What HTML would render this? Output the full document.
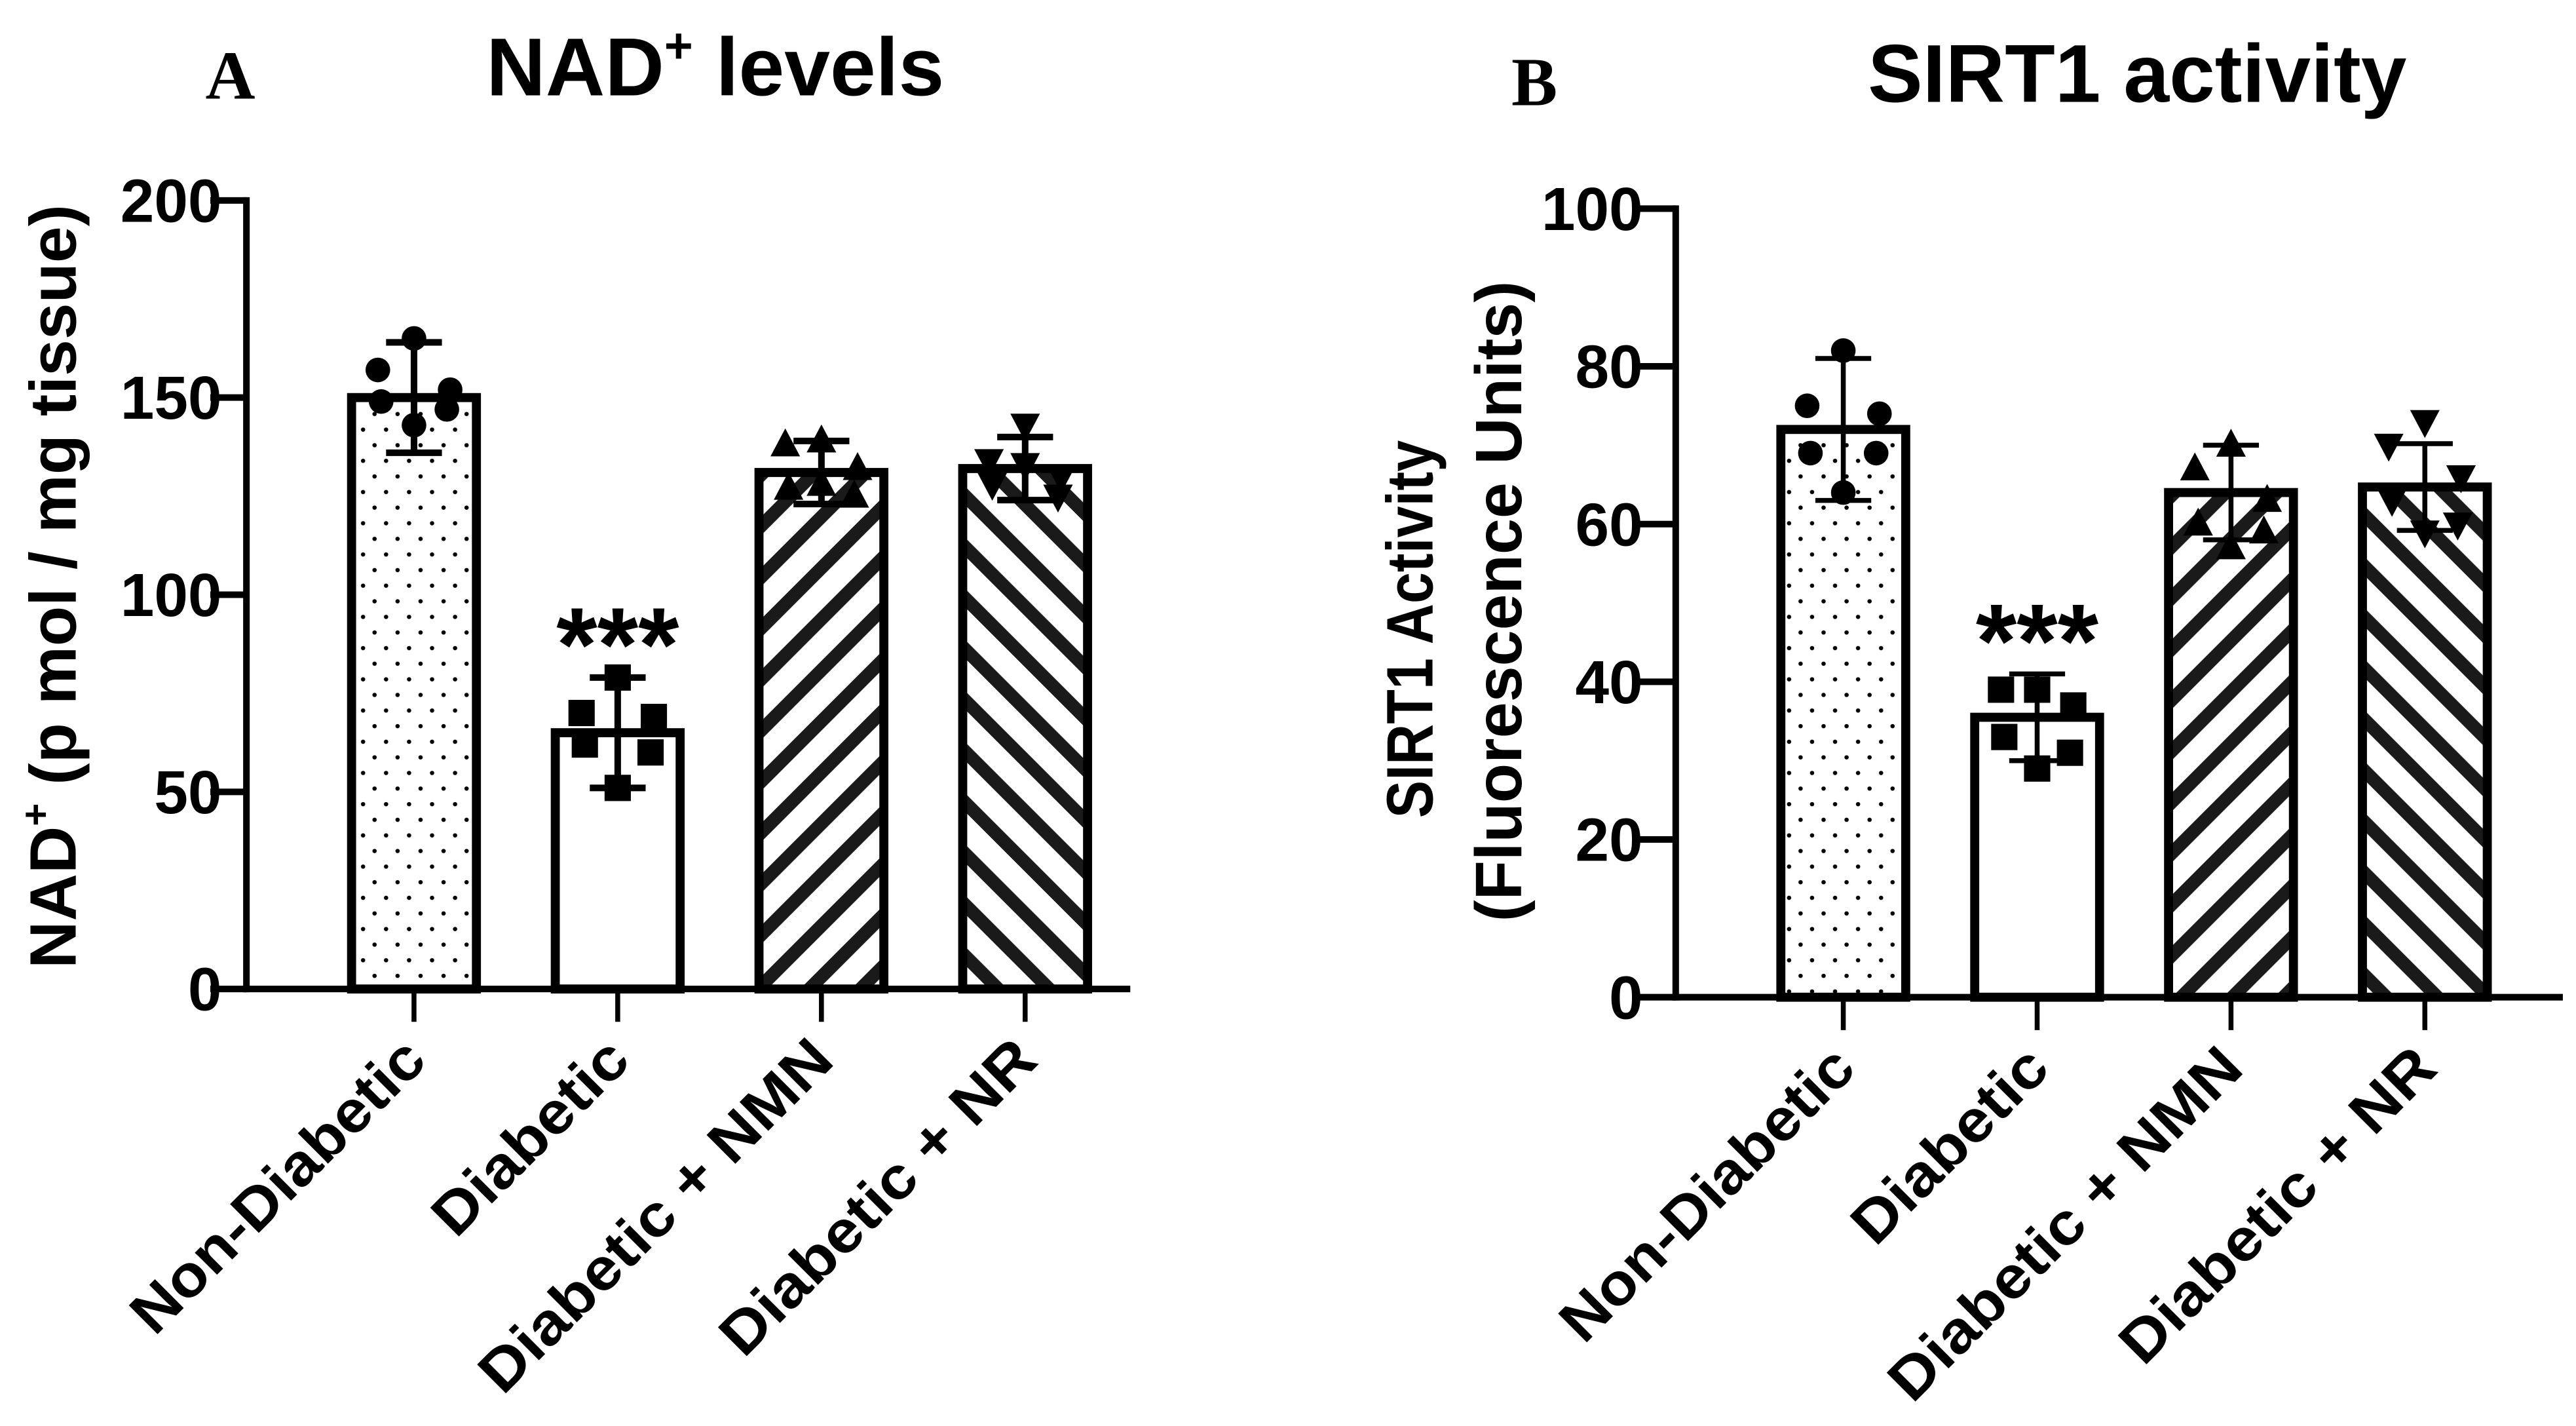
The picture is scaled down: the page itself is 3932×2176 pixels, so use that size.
<!DOCTYPE html>
<html><head><meta charset="utf-8"><title>NAD+ levels and SIRT1 activity</title>
<style>
html,body{margin:0;padding:0;background:#fff;}
svg{display:block;}
text{font-family:"Liberation Sans",Arial,sans-serif;font-weight:bold;fill:#000;}
</style></head>
<body>
<svg id="fig" width="3932" height="2176" viewBox="0 0 1568 868" preserveAspectRatio="none" xmlns="http://www.w3.org/2000/svg">
<defs>
<pattern id="dots" patternUnits="userSpaceOnUse" width="14" height="19">
<rect width="14" height="19" fill="#fff"/>
<circle cx="4" cy="5" r="1.3" fill="#000"/><circle cx="11" cy="14.5" r="1.3" fill="#000"/>
</pattern>
<pattern id="fwd" patternUnits="userSpaceOnUse" width="22" height="22" patternTransform="rotate(45)">
<rect width="22" height="22" fill="#fff"/><rect x="0" y="0" width="8" height="22" fill="#1a1a1a"/>
</pattern>
<pattern id="bwd" patternUnits="userSpaceOnUse" width="22" height="22" patternTransform="rotate(-45)">
<rect width="22" height="22" fill="#fff"/><rect x="0" y="0" width="8" height="22" fill="#1a1a1a"/>
</pattern>
</defs>
</svg>
<script>
const categories = ["Non-Diabetic","Diabetic","Diabetic + NMN","Diabetic + NR"];
const nadMeans = [150, 65, 131, 132];
const nadSD = [14, 14, 8, 8];
const nadPoints = [[165,157,152,149,147,143],[79,70,69,62,60,51],[139,138,132,127,125,128],[143,134,130,128,125,133]];
const nadTicks = [0,50,100,150,200];
const sirtMeans = [72, 35.5, 64, 64.7];
const sirtSD = [9, 5.5, 6, 5.5];
const sirtPoints = [[82,75,74,69,69,64],[39,39,37,33,31,29],[70,67,63,60,59,57],[73,70,66,63,60,59]];
const sirtTicks = [0,20,40,60,80,100];

const labelLens=[236,152,287,255];
const NS="http://www.w3.org/2000/svg";
const svg=document.getElementById('fig');
function mk(tag,attrs,parent){const e=document.createElementNS(NS,tag);for(const k in attrs)e.setAttribute(k,attrs[k]);(parent||svg).appendChild(e);return e;}

function panel(cfg){
  const g=mk('g',{});
  
  
  const y=v=>cfg.y0-(v-cfg.min)/(cfg.max-cfg.min)*(cfg.y0-cfg.y1);
  const xc=i=>cfg.x0+cfg.first+i*cfg.step;
  const fills=['url(#dots)','#fff','url(#fwd)','url(#bwd)'];
  const markers=['circle','square','tri','itri'];
  cfg.means.forEach((m,i)=>{
    const r=mk('rect',{x:xc(i)-cfg.bw/2,y:y(m),width:cfg.bw,height:cfg.y0-y(m),fill:fills[i],stroke:'#000','stroke-width':5.5},g);
    
    
  });
  cfg.points.forEach((pts,i)=>{
    const offs=[0,-22,22,-20,20,0];
    pts.forEach((v,j)=>{
      const cx=xc(i)+offs[j], cy=y(v);
      let e;
      const t=markers[i];
      if(t==='circle') e=mk('circle',{cx:cx,cy:cy,r:7.5,fill:'#000'},g);
      else if(t==='square') e=mk('rect',{x:cx-8,y:cy-8,width:16,height:16,fill:'#000'},g);
      else if(t==='tri') e=mk('polygon',{points:`${cx},${cy-10} ${cx-9},${cy+7} ${cx+9},${cy+7}`,fill:'#000'},g);
      else e=mk('polygon',{points:`${cx},${cy+10} ${cx-9},${cy-7} ${cx+9},${cy-7}`,fill:'#000'},g);
      
      
    });
  });
  cfg.means.forEach((m,i)=>{
    const eg=mk('g',{stroke:'#000','stroke-width':cfg.ew},g);
    
    
    const hi=y(m+cfg.sd[i]), lo=y(m-cfg.sd[i]), c=xc(i);
    mk('line',{x1:c,x2:c,y1:hi,y2:lo},eg);
    mk('line',{x1:c-17,x2:c+17,y1:hi,y2:hi},eg);
    mk('line',{x1:c-17,x2:c+17,y1:lo,y2:lo},eg);
  });
  const ya=mk('line',{x1:cfg.x0,x2:cfg.x0,y1:y(cfg.max)-2,y2:cfg.y0+2,stroke:'#000','stroke-width':4},g);
  
  
  const xa=mk('line',{x1:cfg.x0-2,x2:cfg.xEnd,y1:cfg.y0,y2:cfg.y0,stroke:'#000','stroke-width':4},g);
  
  
  cfg.ticks.forEach(t=>{
    mk('line',{x1:cfg.x0-22,x2:cfg.x0,y1:y(t),y2:y(t),stroke:'#000','stroke-width':4},g);
    const tl=mk('text',{x:cfg.x0-cfg.tickGap,y:y(t)+13,'text-anchor':'end','font-size':37},g);
    tl.textContent=t;
    
    
  });
  categories.forEach((c,i)=>{
    mk('line',{x1:xc(i),x2:xc(i),y1:cfg.y0,y2:cfg.y0+20,stroke:'#000','stroke-width':3},g);
    const lx=xc(i)+9, ly=cfg.y0+45;
    const tl=mk('text',{x:lx,y:ly,'text-anchor':'end','font-size':36,textLength:labelLens[i],lengthAdjust:'spacingAndGlyphs',transform:`rotate(-45 ${lx} ${ly})`},g);
    tl.textContent=c;
    
    
  });
  const s=mk('text',{x:xc(1),y:y(cfg.means[1]+cfg.sd[1])+2,'text-anchor':'middle','font-size':64},g);
  s.textContent='***';
  
  
  return g;
}

panel({name:'panel-a-nad-chart',x0:150,xEnd:688,y0:602,y1:122,min:0,max:200,first:102,step:124,bw:76,ew:4,tickGap:15,means:nadMeans,sd:nadSD,points:nadPoints,ticks:nadTicks});
panel({name:'panel-b-sirt1-chart',x0:1020,xEnd:1560,y0:607,y1:127,min:0,max:100,first:102,step:118,bw:76,ew:3,tickGap:20,means:sirtMeans,sd:sirtSD,points:sirtPoints,ticks:sirtTicks});
</script>
<svg style="position:absolute;left:0;top:0" width="3932" height="2176" viewBox="0 0 1568 868" preserveAspectRatio="none" xmlns="http://www.w3.org/2000/svg">
<text x="125" y="60" font-size="42" style="font-family:'Liberation Serif',serif;font-weight:bold">A</text>
<text x="296" y="58" font-size="50">NAD<tspan font-size="30" dy="-20">+</tspan><tspan dy="20"> levels</tspan></text>
<text transform="translate(46 357) rotate(-90)" text-anchor="middle" font-size="40">NAD<tspan font-size="24" dy="-16">+</tspan><tspan dy="16"> (p mol / mg tissue)</tspan></text>
<text x="920" y="64" font-size="42" style="font-family:'Liberation Serif',serif;font-weight:bold">B</text>
<text x="1137" y="62" font-size="50">SIRT1 activity</text>
<text transform="translate(872 383) rotate(-90)" text-anchor="middle" font-size="40" textLength="230" lengthAdjust="spacingAndGlyphs">SIRT1 Activity</text>
<text transform="translate(926 366) rotate(-90)" text-anchor="middle" font-size="40" textLength="390" lengthAdjust="spacingAndGlyphs">(Fluorescence Units)</text>
</svg>
</body></html>
